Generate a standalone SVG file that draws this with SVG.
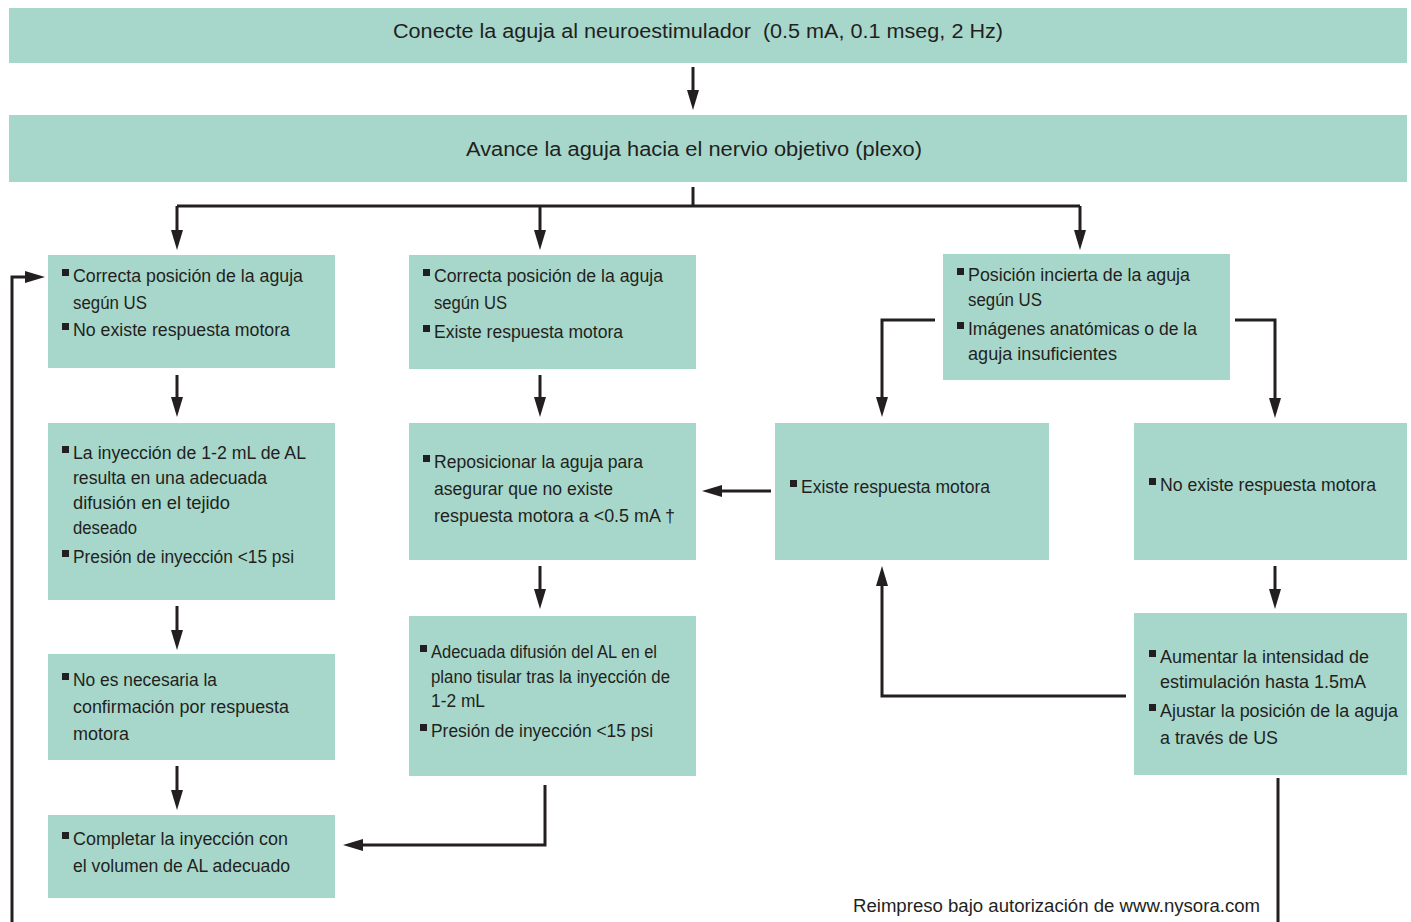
<svg xmlns="http://www.w3.org/2000/svg" width="1411" height="922" viewBox="0 0 1411 922">
<style>
.box{fill:#a7d7cb}
.t{font-family:"Liberation Sans",Arial,sans-serif;font-size:17.5px;fill:#231f20}
.h{font-family:"Liberation Sans",Arial,sans-serif;font-size:20px;fill:#231f20}
.b{fill:#231f20}
.c{fill:none;stroke:#231f20;stroke-width:3}
</style>
<defs>
<marker id="ah" viewBox="0 0 20 12" refX="4" refY="6" markerWidth="20" markerHeight="12" markerUnits="userSpaceOnUse" orient="auto">
<path d="M0,0 L20,6 L0,12 z" fill="#231f20"/>
</marker>
</defs>
<rect width="1411" height="922" fill="#ffffff"/>

<g id="connectors">
<path class="c" d="M693,67 V94" marker-end="url(#ah)"/>
<path class="c" d="M693,187 V206"/>
<path class="c" d="M177,206 H1080"/>
<path class="c" d="M177,206 V234" marker-end="url(#ah)"/>
<path class="c" d="M540,206 V234" marker-end="url(#ah)"/>
<path class="c" d="M1080,206 V234" marker-end="url(#ah)"/>
<path class="c" d="M177,375 V401" marker-end="url(#ah)"/>
<path class="c" d="M540,375 V401" marker-end="url(#ah)"/>
<path class="c" d="M935,320 H882 V401" marker-end="url(#ah)"/>
<path class="c" d="M1235,320 H1275 V402" marker-end="url(#ah)"/>
<path class="c" d="M771,491 H718" marker-end="url(#ah)"/>
<path class="c" d="M177,606 V634" marker-end="url(#ah)"/>
<path class="c" d="M540,566 V593" marker-end="url(#ah)"/>
<path class="c" d="M1275,566 V593" marker-end="url(#ah)"/>
<path class="c" d="M177,766 V794" marker-end="url(#ah)"/>
<path class="c" d="M545,785 V845 H359" marker-end="url(#ah)"/>
<path class="c" d="M1126,696 H882 V582" marker-end="url(#ah)"/>
<path class="c" d="M1278,778 V922"/>
<path class="c" d="M12,922 V277 H29" marker-end="url(#ah)"/>
</g>

<g id="n-top">
<rect class="box" x="9" y="8" width="1398" height="55"/>
<text class="h" x="393" y="38" textLength="610" lengthAdjust="spacingAndGlyphs">Conecte la aguja al neuroestimulador &#160;(0.5 mA, 0.1 mseg, 2 Hz)</text>
</g>

<g id="n-avance">
<rect class="box" x="9" y="115" width="1398" height="67"/>
<text class="h" x="466" y="156" textLength="456" lengthAdjust="spacingAndGlyphs">Avance la aguja hacia el nervio objetivo (plexo)</text>
</g>

<g id="n-a1">
<rect class="box" x="48" y="255" width="287" height="113"/>
<rect class="b" x="62" y="269" width="7" height="7"/>
<text class="t" x="73" y="282" textLength="230" lengthAdjust="spacingAndGlyphs">Correcta posición de la aguja</text>
<text class="t" x="73" y="309" textLength="74" lengthAdjust="spacingAndGlyphs">según US</text>
<rect class="b" x="62" y="323" width="7" height="7"/>
<text class="t" x="73" y="336" textLength="217" lengthAdjust="spacingAndGlyphs">No existe respuesta motora</text>
</g>

<g id="n-b1">
<rect class="box" x="409" y="255" width="287" height="114"/>
<rect class="b" x="423" y="269" width="7" height="7"/>
<text class="t" x="434" y="282" textLength="229" lengthAdjust="spacingAndGlyphs">Correcta posición de la aguja</text>
<text class="t" x="434" y="309" textLength="73" lengthAdjust="spacingAndGlyphs">según US</text>
<rect class="b" x="423" y="325" width="7" height="7"/>
<text class="t" x="434" y="338" textLength="189" lengthAdjust="spacingAndGlyphs">Existe respuesta motora</text>
</g>

<g id="n-c1">
<rect class="box" x="943" y="254" width="287" height="126"/>
<rect class="b" x="957" y="268" width="7" height="7"/>
<text class="t" x="968" y="281" textLength="222" lengthAdjust="spacingAndGlyphs">Posición incierta de la aguja</text>
<text class="t" x="968" y="306" textLength="74" lengthAdjust="spacingAndGlyphs">según US</text>
<rect class="b" x="957" y="322" width="7" height="7"/>
<text class="t" x="968" y="335" textLength="229" lengthAdjust="spacingAndGlyphs">Imágenes anatómicas o de la</text>
<text class="t" x="968" y="360" textLength="149" lengthAdjust="spacingAndGlyphs">aguja insuficientes</text>
</g>

<g id="n-a2">
<rect class="box" x="48" y="423" width="287" height="177"/>
<rect class="b" x="62" y="446" width="7" height="7"/>
<text class="t" x="73" y="459" textLength="233" lengthAdjust="spacingAndGlyphs">La inyección de 1-2 mL de AL</text>
<text class="t" x="73" y="484" textLength="194" lengthAdjust="spacingAndGlyphs">resulta en una adecuada</text>
<text class="t" x="73" y="509" textLength="157" lengthAdjust="spacingAndGlyphs">difusión en el tejido</text>
<text class="t" x="73" y="534" textLength="64" lengthAdjust="spacingAndGlyphs">deseado</text>
<rect class="b" x="62" y="550" width="7" height="7"/>
<text class="t" x="73" y="563" textLength="221" lengthAdjust="spacingAndGlyphs">Presión de inyección &lt;15 psi</text>
</g>

<g id="n-b2">
<rect class="box" x="409" y="423" width="287" height="137"/>
<rect class="b" x="423" y="455" width="7" height="7"/>
<text class="t" x="434" y="468" textLength="209" lengthAdjust="spacingAndGlyphs">Reposicionar la aguja para</text>
<text class="t" x="434" y="495" textLength="179" lengthAdjust="spacingAndGlyphs">asegurar que no existe</text>
<text class="t" x="434" y="522" textLength="241" lengthAdjust="spacingAndGlyphs">respuesta motora a &lt;0.5 mA †</text>
</g>

<g id="n-c2">
<rect class="box" x="775" y="423" width="274" height="137"/>
<rect class="b" x="790" y="480" width="7" height="7"/>
<text class="t" x="801" y="493" textLength="189" lengthAdjust="spacingAndGlyphs">Existe respuesta motora</text>
</g>

<g id="n-d2">
<rect class="box" x="1134" y="423" width="273" height="137"/>
<rect class="b" x="1149" y="478" width="7" height="7"/>
<text class="t" x="1160" y="491" textLength="216" lengthAdjust="spacingAndGlyphs">No existe respuesta motora</text>
</g>

<g id="n-a3">
<rect class="box" x="48" y="654" width="287" height="106"/>
<rect class="b" x="62" y="673" width="7" height="7"/>
<text class="t" x="73" y="686" textLength="144" lengthAdjust="spacingAndGlyphs">No es necesaria la</text>
<text class="t" x="73" y="713" textLength="216" lengthAdjust="spacingAndGlyphs">confirmación por respuesta</text>
<text class="t" x="73" y="740" textLength="56" lengthAdjust="spacingAndGlyphs">motora</text>
</g>

<g id="n-b3">
<rect class="box" x="409" y="616" width="287" height="160"/>
<rect class="b" x="420" y="645" width="7" height="7"/>
<text class="t" x="431" y="658" textLength="226" lengthAdjust="spacingAndGlyphs">Adecuada difusión del AL en el</text>
<text class="t" x="431" y="683" textLength="239" lengthAdjust="spacingAndGlyphs">plano tisular tras la inyección de</text>
<text class="t" x="431" y="707" textLength="54" lengthAdjust="spacingAndGlyphs">1-2 mL</text>
<rect class="b" x="420" y="724" width="7" height="7"/>
<text class="t" x="431" y="737" textLength="222" lengthAdjust="spacingAndGlyphs">Presión de inyección &lt;15 psi</text>
</g>

<g id="n-d3">
<rect class="box" x="1134" y="613" width="273" height="162"/>
<rect class="b" x="1149" y="650" width="7" height="7"/>
<text class="t" x="1160" y="663" textLength="209" lengthAdjust="spacingAndGlyphs">Aumentar la intensidad de</text>
<text class="t" x="1160" y="688" textLength="206" lengthAdjust="spacingAndGlyphs">estimulación hasta 1.5mA</text>
<rect class="b" x="1149" y="704" width="7" height="7"/>
<text class="t" x="1160" y="717" textLength="238" lengthAdjust="spacingAndGlyphs">Ajustar la posición de la aguja</text>
<text class="t" x="1160" y="744" textLength="118" lengthAdjust="spacingAndGlyphs">a través de US</text>
</g>

<g id="n-a4">
<rect class="box" x="48" y="815" width="287" height="83"/>
<rect class="b" x="62" y="832" width="7" height="7"/>
<text class="t" x="73" y="845" textLength="215" lengthAdjust="spacingAndGlyphs">Completar la inyección con</text>
<text class="t" x="73" y="872" textLength="217" lengthAdjust="spacingAndGlyphs">el volumen de AL adecuado</text>
</g>

<g id="footer">
<text class="t" x="853" y="912" textLength="407" lengthAdjust="spacingAndGlyphs">Reimpreso bajo autorización de www.nysora.com</text>
</g>
</svg>
